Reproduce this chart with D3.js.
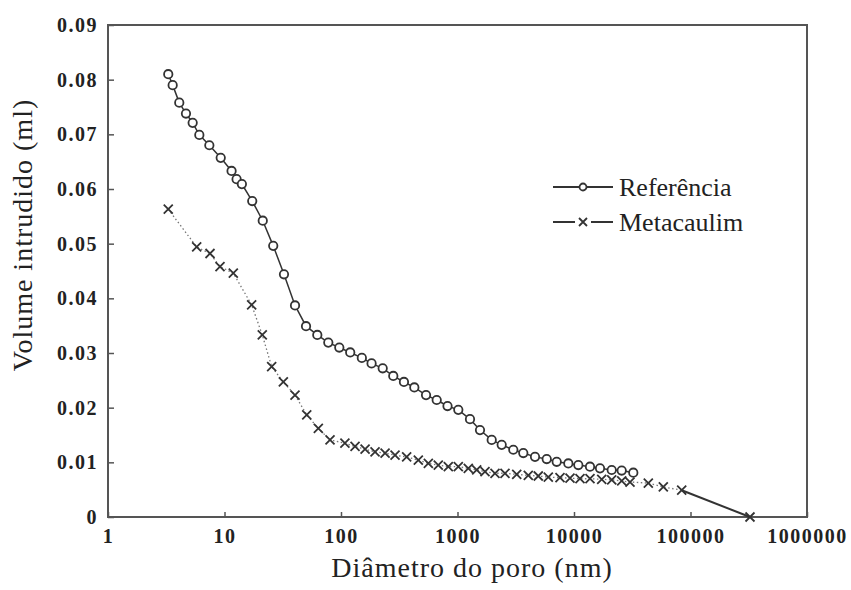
<!DOCTYPE html>
<html>
<head>
<meta charset="utf-8">
<script src="https://cdnjs.cloudflare.com/ajax/libs/d3/7.8.5/d3.min.js"></script>
<style>
  body { margin: 0; background: #fff; }
  svg text { font-family: "Liberation Serif", "Times New Roman", serif; fill: #222; }
  .tick text { font-weight: bold; font-size: 20px; letter-spacing: 1.5px; }
</style>
</head>
<body>
<div id="chart"></div>
<script>
const width = 851;
const height = 590;
const margin = { left: 108, top: 25, right: 44, bottom: 73 };

// pore diameter (nm) and intruded volume (ml)
const refDiam = [3.29, 3.59, 4.09, 4.67, 5.33, 6.08, 7.41, 9.28, 11.5, 12.7, 14.1, 17.3, 21.3, 26.2,
  32.4, 40.3, 50.1, 62.6, 77.8, 96.7, 120, 151, 183, 228, 281, 347, 426, 537, 663, 821, 1016,
  1280, 1560, 1966, 2395, 3013, 3671, 4627, 5832, 7104, 8939, 10890, 13720, 16720, 21070, 25670, 32280];
const refVol = [0.0810, 0.0790, 0.0758, 0.0738, 0.0721, 0.0699, 0.0680, 0.0657, 0.0633, 0.0618,
  0.0609, 0.0578, 0.0542, 0.0496, 0.0444, 0.0387, 0.0349, 0.0333, 0.0319, 0.0310, 0.0301, 0.0291,
  0.0281, 0.0272, 0.0258, 0.0247, 0.0237, 0.0223, 0.0214, 0.0203, 0.0196, 0.0179, 0.0159, 0.0141,
  0.0132, 0.0123, 0.0117, 0.0110, 0.0106, 0.0101, 0.0098, 0.0095, 0.0092, 0.0089, 0.0086, 0.0085, 0.0081];

const metaDiam = [3.29, 5.77, 7.51, 9.15, 11.9, 17.1, 21.1, 25.4, 32.0, 40.3, 50.8, 63.9, 80.5,
  108, 132, 161, 196, 239, 291, 366, 461, 562, 684, 834, 1016, 1238, 1461, 1722, 2098, 2556,
  3223, 4052, 4938, 6017, 7583, 9241, 11260, 13720, 17290, 21070, 25670, 30250, 43430, 58430, 84040, 324100];
const metaVol = [0.0563, 0.0494, 0.0482, 0.0458, 0.0446, 0.0388, 0.0333, 0.0275, 0.0247, 0.0223,
  0.0187, 0.0162, 0.0141, 0.0135, 0.0129, 0.0124, 0.0119, 0.0117, 0.0113, 0.0110, 0.0104, 0.0098,
  0.0095, 0.0092, 0.0092, 0.0089, 0.0086, 0.0083, 0.0080, 0.0080, 0.0078, 0.0076, 0.0075, 0.0073,
  0.0072, 0.0071, 0.0070, 0.0070, 0.0069, 0.0068, 0.0066, 0.0064, 0.0062, 0.0055, 0.0049, 0];

const xTicks = [1, 10, 100, 1000, 10000, 100000, 1000000];
const yTicks = [0, 0.01, 0.02, 0.03, 0.04, 0.05, 0.06, 0.07, 0.08, 0.09];
const seriesNames = ["Referência", "Metacaulim"];

const svg = d3.select("#chart").append("svg")
  .attr("width", width)
  .attr("height", height);

const x = d3.scaleLog().domain([1, 1000000]).range([margin.left, width - margin.right]);
const y = d3.scaleLinear().domain([0, 0.09]).range([height - margin.bottom, margin.top]);

const ref = refDiam.map((d, i) => ({ x: d, y: refVol[i] }));
const meta = metaDiam.map((d, i) => ({ x: d, y: metaVol[i] }));

/* axes */
svg.append("g")
  .attr("transform", "translate(0," + y(0) + ")")
  .call(d3.axisBottom(x).tickValues(xTicks).tickFormat(d3.format("d"))
    .tickSizeInner(-5).tickSizeOuter(0).tickPadding(12))
  .call(g => g.select(".domain").remove())
  .call(g => g.selectAll("line").attr("stroke", "#555").attr("stroke-width", 1.5));

svg.append("g")
  .attr("transform", "translate(" + x(1) + ",0)")
  .call(d3.axisLeft(y).tickValues(yTicks).tickFormat(d => d === 0 ? "0" : d3.format(".2f")(d))
    .tickSizeInner(-6).tickSizeOuter(0).tickPadding(10))
  .call(g => g.select(".domain").remove())
  .call(g => g.selectAll("line").attr("stroke", "#555").attr("stroke-width", 1.5));

// frame
svg.append("rect")
  .attr("x", x(1))
  .attr("y", y(0.09))
  .attr("width", x(1000000) - x(1))
  .attr("height", y(0) - y(0.09))
  .attr("fill", "none")
  .attr("stroke", "#555")
  .attr("stroke-width", 2);

/* axis titles */
svg.append("text")
  .attr("x", 472)
  .attr("y", 577)
  .attr("text-anchor", "middle")
  .style("font-size", "28px")
  .style("letter-spacing", "1px")
  .text("Diâmetro do poro (nm)");

svg.append("text")
  .attr("transform", "translate(32," + 235 + ") rotate(-90)")
  .attr("text-anchor", "middle")
  .style("font-size", "28px")
  .style("letter-spacing", "1px")
  .text("Volume intrudido (ml)");

/* lines */
const line = d3.line().x(d => x(d.x)).y(d => y(d.y));

svg.append("path")
  .datum(meta.slice(0, meta.length - 1))
  .attr("d", line)
  .attr("fill", "none")
  .attr("stroke", "#777")
  .attr("stroke-width", 1.3)
  .attr("stroke-dasharray", "1.5,2.5");

svg.append("path")
  .datum(meta.slice(meta.length - 2))
  .attr("d", line)
  .attr("fill", "none")
  .attr("stroke", "#333")
  .attr("stroke-width", 2);

svg.append("path")
  .datum(ref)
  .attr("d", line)
  .attr("fill", "none")
  .attr("stroke", "#333")
  .attr("stroke-width", 1.5);

/* markers */
const crossPath = s => "M" + (-s) + "," + (-s) + "L" + s + "," + s + "M" + (-s) + "," + s + "L" + s + "," + (-s);

svg.append("g").selectAll("path")
  .data(meta)
  .enter().append("path")
  .attr("transform", d => "translate(" + x(d.x) + "," + y(d.y) + ")")
  .attr("d", crossPath(4.5))
  .attr("stroke", "#333")
  .attr("stroke-width", 1.8)
  .attr("fill", "none");

svg.append("g").selectAll("circle")
  .data(ref)
  .enter().append("circle")
  .attr("cx", d => x(d.x))
  .attr("cy", d => y(d.y))
  .attr("r", 4.2)
  .attr("fill", "#fff")
  .attr("stroke", "#333")
  .attr("stroke-width", 1.8);

/* legend */
const legend = svg.append("g")
  .selectAll("g")
  .data(seriesNames)
  .enter().append("g")
  .attr("transform", (d, i) => "translate(553," + (187 + i * 35) + ")");

legend.append("line")
  .attr("x1", 0).attr("x2", 60)
  .attr("stroke", "#333")
  .attr("stroke-width", 2)
  .attr("stroke-dasharray", (d, i) => i === 0 ? null : "22,16");

legend.filter((d, i) => i === 0).append("circle")
  .attr("cx", 30).attr("r", 3.5)
  .attr("fill", "#fff").attr("stroke", "#333").attr("stroke-width", 1.8);

legend.filter((d, i) => i === 1).append("path")
  .attr("transform", "translate(30,0)")
  .attr("d", crossPath(4))
  .attr("stroke", "#333").attr("stroke-width", 1.8);

legend.append("text")
  .attr("x", 66)
  .attr("y", 9)
  .style("font-size", "26px")
  .text(d => d);
</script>
</body>
</html>
